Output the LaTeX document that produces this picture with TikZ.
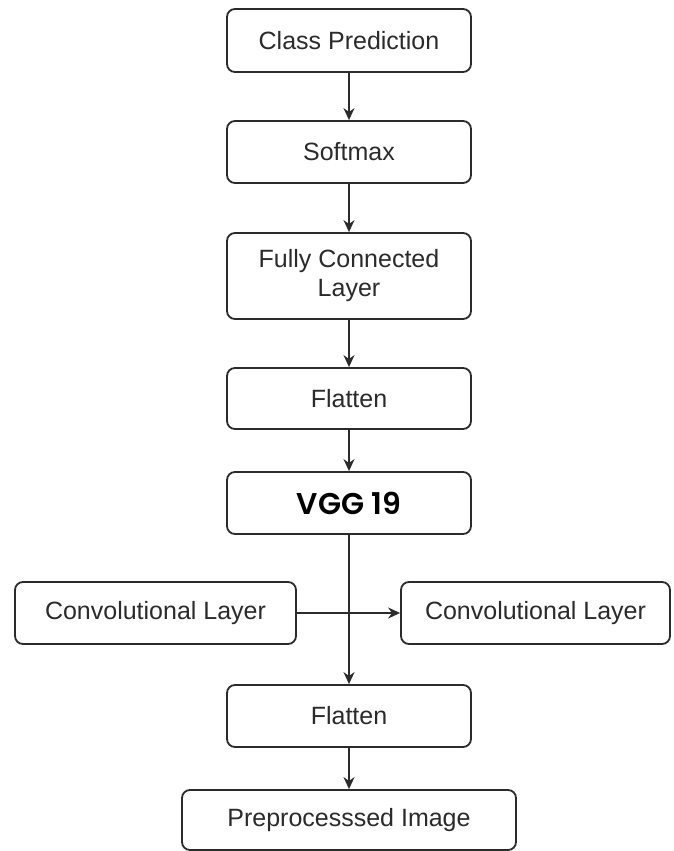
\documentclass[tikz,border=0pt]{standalone}
\usepackage{fontspec}
\setmainfont{Liberation Sans}
\newfontfamily\headfont{Poppins SemiBold}
\usetikzlibrary{arrows.meta}
\definecolor{ink}{HTML}{2B2B2B}
\tikzset{
  blk/.style={draw=ink, line width=1.8pt, rounded corners=8pt, fill=white,
    text=ink, align=center, inner sep=0pt,
    font=\fontsize{25}{29}\selectfont},
  link/.style={draw=ink, line width=1.8pt, -{Stealth[length=12pt,width=11pt]}}
}
\begin{document}
\begin{tikzpicture}[x=1pt, y=-1pt]
  \useasboundingbox (0,0) rectangle (673,851);
  % main column of the network
  \node[blk, minimum width=244pt, minimum height=63pt] (cp)  at (349,40.5) {Class Prediction};
  \node[blk, minimum width=244pt, minimum height=62pt] (sm)  at (349,152)  {Softmax};
  \node[blk, minimum width=244pt, minimum height=86pt] (fc)  at (349,276)  {Fully Connected\\Layer};
  \node[blk, minimum width=244pt, minimum height=61pt] (fl1) at (349,398.5){Flatten};
  \node[blk, minimum width=244pt, minimum height=62pt, font=\headfont\fontsize{30}{33}\selectfont, text=black] (vgg) at (349,503) {VGG 19};
  % side convolution branch
  \node[blk, minimum width=281pt, minimum height=62pt] (cl) at (155.5,613) {Convolutional Layer};
  \node[blk, minimum width=269pt, minimum height=62pt] (cr) at (535.5,613) {Convolutional Layer};
  % input side
  \node[blk, minimum width=244pt, minimum height=62pt] (fl2) at (349,716) {Flatten};
  \node[blk, minimum width=334pt, minimum height=60pt] (pre) at (349,820) {Preprocesssed Image};
  % connectors
  \draw[link] (cp) -- (sm);
  \draw[link] (sm) -- (fc);
  \draw[link] (fc) -- (fl1);
  \draw[link] (fl1) -- (vgg);
  \draw[link] (vgg) -- (fl2);
  \draw[link] (cl) -- (cr);
  \draw[link] (fl2) -- (pre);
\end{tikzpicture}
\end{document}
